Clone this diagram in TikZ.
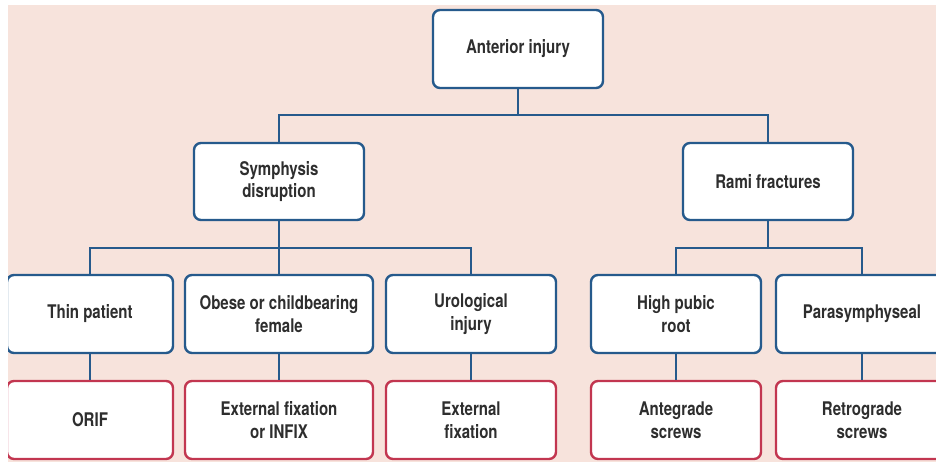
\documentclass[tikz,border=0pt]{standalone}
\usepackage{fontspec}
\newfontfamily\boxfont{TeX Gyre Heros}[FakeStretch=0.8]
\definecolor{bgpink}{HTML}{F7E3DC}
\definecolor{boxblue}{HTML}{265A8C}
\definecolor{boxred}{HTML}{C23650}
\definecolor{txtdark}{HTML}{2E2E2E}
\tikzset{
  base/.style={draw, rounded corners=7pt, line width=2.4pt, fill=white, inner sep=0pt,
    minimum height=78pt, align=center, text=txtdark,
    font=\boxfont\bfseries\fontsize{18.8}{22.5}\selectfont},
  bluebox/.style={base, draw=boxblue},
  redbox/.style={base, draw=boxred},
  link/.style={draw=boxblue, line width=2.4pt}
}
\begin{document}
\begin{tikzpicture}[x=1pt,y=-1pt]
\useasboundingbox (0,0) rectangle (936,462);
\fill[white] (0,0) rectangle (936,462);
\fill[bgpink] (8,5) rectangle (936,462);
\begin{scope}
\clip (8,5) rectangle (936,462);
% level 1
\node[bluebox, minimum width=170pt] (top) at (518,49) {Anterior injury};
% level 2
\node[bluebox, minimum width=170pt, minimum height=77pt] (sym) at (279,181.5) {Symphysis\\disruption};
\node[bluebox, minimum width=170pt, minimum height=77pt] (rami) at (768,181.5) {Rami fractures};
% level 3
\node[bluebox, minimum width=166pt] (thin) at (90,314) {Thin patient};
\node[bluebox, minimum width=188pt] (obese) at (279,314) {Obese or childbearing\\female};
\node[bluebox, minimum width=170pt] (uro) at (471,314) {Urological\\injury};
\node[bluebox, minimum width=170pt] (high) at (676,314) {High pubic\\root};
\node[bluebox, minimum width=172pt] (para) at (862,314) {Parasymphyseal};
% level 4
\node[redbox, minimum width=166pt] (orif) at (90,420) {ORIF};
\node[redbox, minimum width=188pt] (exinf) at (279,420) {External fixation\\or INFIX};
\node[redbox, minimum width=170pt] (exfix) at (471,420) {External\\fixation};
\node[redbox, minimum width=170pt] (ante) at (676,420) {Antegrade\\screws};
\node[redbox, minimum width=172pt] (retro) at (862,420) {Retrograde\\screws};
% junctions
\coordinate (j1) at (518,115);
\coordinate (j2) at (279,248);
\coordinate (j3) at (768,248);
% connectors
\draw[link] (top.south) -- (j1);
\draw[link] (j1) -| (sym.north);
\draw[link] (j1) -| (rami.north);
\draw[link] (sym.south) -- (obese.north);
\draw[link] (j2) -| (thin.north);
\draw[link] (j2) -| (uro.north);
\draw[link] (rami.south) -- (j3);
\draw[link] (j3) -| (high.north);
\draw[link] (j3) -| (para.north);
\draw[link] (thin.south) -- (orif.north);
\draw[link] (obese.south) -- (exinf.north);
\draw[link] (uro.south) -- (exfix.north);
\draw[link] (high.south) -- (ante.north);
\draw[link] (para.south) -- (retro.north);
\end{scope}
\end{tikzpicture}
\end{document}
